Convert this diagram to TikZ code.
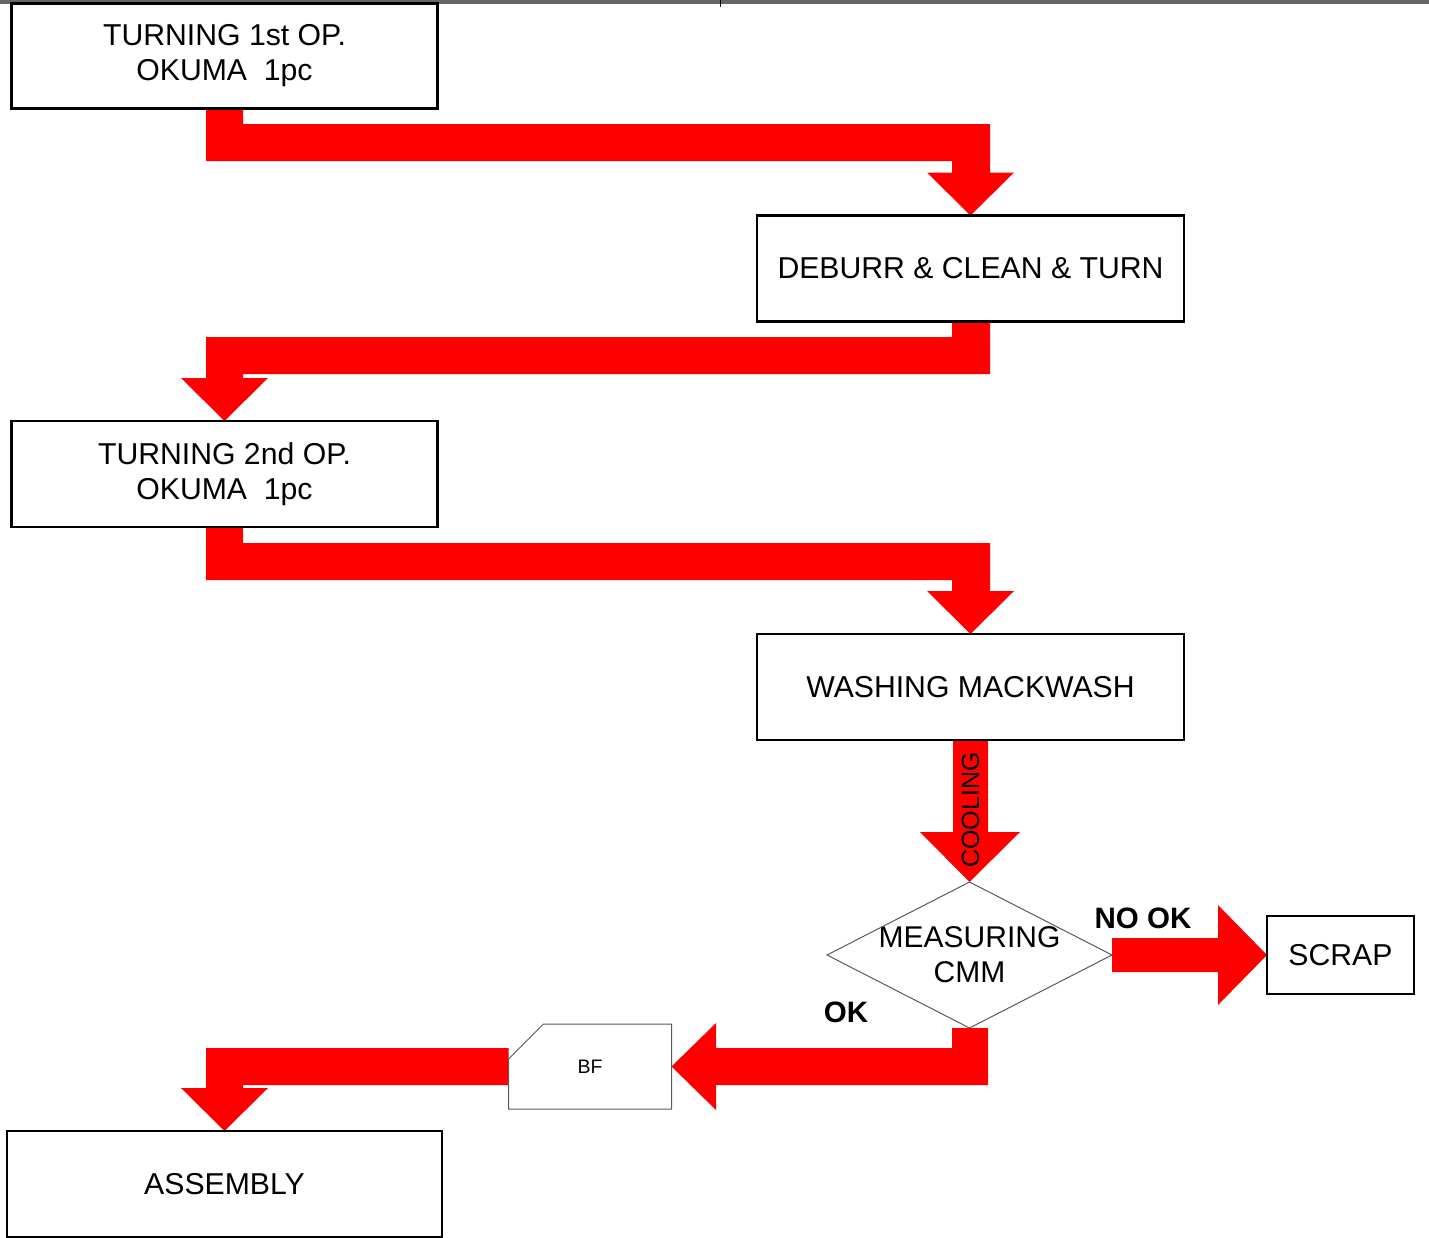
\documentclass[tikz,border=0pt]{standalone}
\usepackage{fontspec}
\setmainfont{Liberation Sans}
\usetikzlibrary{calc}
\pgfdeclarelayer{bg}
\pgfsetlayers{bg,main}
\begin{document}
\begin{tikzpicture}[x=1pt,y=-1pt, every node/.style={outer sep=0pt},
  box/.style={draw, line width=2.6pt, inner sep=0pt, align=center,
    font=\fontsize{30.2}{35}\selectfont},
  thinshape/.style={draw=black!65, line width=1pt},
  flow/.style={fill=red, draw=none},
  lbl/.style={inner sep=0pt, font=\fontsize{29.5}{35}\selectfont\bfseries}]
\useasboundingbox (0,0) rectangle (1429,1237);
\fill[black!60] (0,0) rectangle (1429,4);
\draw[black, line width=1pt] (720,0) -- (720,7);

% boxes
\node[box, minimum width=426pt, minimum height=105pt] (b1) at (224.5,56) {TURNING 1st OP.\\OKUMA\ \ 1pc};
\node[box, minimum width=427pt, minimum height=106pt] (b2) at (970.5,268.5) {DEBURR \& CLEAN \& TURN};
\node[box, minimum width=426pt, minimum height=106pt] (b3) at (224.5,474) {TURNING 2nd OP.\\OKUMA\ \ 1pc};
\node[box, minimum width=427pt, minimum height=106pt] (b4) at (970.5,687) {WASHING MACKWASH};
\node[box, minimum width=147pt, minimum height=78pt] (scrap) at (1340.5,955) {SCRAP};
\node[box, minimum width=435pt, minimum height=106pt] (asm) at (224.5,1184) {ASSEMBLY};

% decision
\node[inner sep=0pt, minimum width=285pt, minimum height=146pt, align=center,
  font=\fontsize{30}{35}\selectfont] (d) at (969.5,955) {MEASURING\\CMM};
\draw[thinshape] (d.west) -- (d.north) -- (d.east) -- (d.south) -- cycle;

% BF
\node[inner sep=0pt, minimum width=163pt, minimum height=85pt,
  font=\fontsize{19.5}{23}\selectfont] (bf) at (590,1066.5) {BF};
\draw[thinshape] (bf.south west) -- (bf.south east) -- (bf.north east)
  -- ($(bf.north west)+(35,0)$) -- ($(bf.north west)+(0,35)$) -- cycle;

% labels
\node[lbl] (nook) at (1143,918) {NO OK};
\node[lbl] (ok) at (846,1012) {OK};

\begin{pgfonlayer}{bg}
% arrow 1: b1 -> b2   (S.y=108.5, T.y=215.5)
\coordinate (S) at (b1.south); \coordinate (T) at (b2.north);
\fill[flow] ($(S)+(-18.5,0)$) -- ($(S)+(18.5,0)$) -- ($(S)+(18.5,15.5)$)
  -- ($(T)+(19.5,-91.5)$) -- ($(T)+(19.5,-43)$) -- ($(T)+(43.5,-43)$) -- (T)
  -- ($(T)+(-43.5,-43)$) -- ($(T)+(-18.5,-43)$) -- ($(T)+(-18.5,-54.5)$)
  -- ($(S)+(-18.5,52.5)$) -- cycle;
% arrow 2: b2 -> b3   (S.y=321.5, T.y=421)
\coordinate (S) at (b2.south); \coordinate (T) at (b3.north);
\fill[flow] ($(S)+(-18.5,0)$) -- ($(S)+(19.5,0)$) -- ($(S)+(19.5,52.5)$)
  -- ($(T)+(18.5,-47)$) -- ($(T)+(18.5,-43)$) -- ($(T)+(43.5,-43)$) -- (T)
  -- ($(T)+(-43.5,-43)$) -- ($(T)+(-18.5,-43)$) -- ($(T)+(-18.5,-84)$)
  -- ($(S)+(-18.5,15.5)$) -- cycle;
% arrow 3: b3 -> b4   (S.y=527, T.y=634)
\coordinate (S) at (b3.south); \coordinate (T) at (b4.north);
\fill[flow] ($(S)+(-18.5,0)$) -- ($(S)+(18.5,0)$) -- ($(S)+(18.5,16)$)
  -- ($(T)+(19.5,-91)$) -- ($(T)+(19.5,-43)$) -- ($(T)+(43.5,-43)$) -- (T)
  -- ($(T)+(-43.5,-43)$) -- ($(T)+(-18.5,-43)$) -- ($(T)+(-18.5,-54)$)
  -- ($(S)+(-18.5,53)$) -- cycle;
% cooling: b4 -> d
\coordinate (S) at (b4.south); \coordinate (T) at (d.north);
\fill[flow] ($(S)+(-17.5,0)$) -- ($(S)+(17.5,0)$) -- ($(S)+(17.5,92)$)
  -- ($(S)+(49.5,92)$) -- (T) -- ($(S)+(-50.5,92)$) -- ($(S)+(-17.5,92)$) -- cycle;
% no ok: d -> scrap
\coordinate (S) at (d.east); \coordinate (T) at (scrap.west);
\fill[flow] ($(S)+(0,-17)$) -- ($(T)+(-49,-17)$) -- ($(T)+(-49,-50)$) -- (T)
  -- ($(T)+(-49,50)$) -- ($(T)+(-49,17)$) -- ($(S)+(0,17)$) -- cycle;
% ok: d -> bf
\coordinate (S) at (d.south); \coordinate (T) at (bf.east);
\fill[flow] ($(S)+(-17.5,0)$) -- ($(S)+(18.5,0)$) -- ($(S)+(18.5,57)$)
  -- ($(T)+(44.5,18.5)$) -- ($(T)+(44.5,43.5)$) -- (T) -- ($(T)+(44.5,-43.5)$)
  -- ($(T)+(44.5,-18.5)$) -- ($(S)+(-17.5,20)$) -- cycle;
% bf -> assembly
\coordinate (S) at (bf.west); \coordinate (T) at (asm.north);
\fill[flow] ($(S)+(0,-18.5)$) -- ($(S)+(0,18.5)$) -- ($(T)+(18.5,-46)$)
  -- ($(T)+(18.5,-43)$) -- ($(T)+(43.5,-43)$) -- (T) -- ($(T)+(-43.5,-43)$)
  -- ($(T)+(-18.5,-43)$) -- ($(T)+(-18.5,-83)$) -- cycle;
\end{pgfonlayer}

\node[rotate=90, inner sep=0pt, font=\fontsize{25}{30}\selectfont] (cool)
  at ($(b4.south)+(0,70)$) {COOLING};
\end{tikzpicture}
\end{document}
